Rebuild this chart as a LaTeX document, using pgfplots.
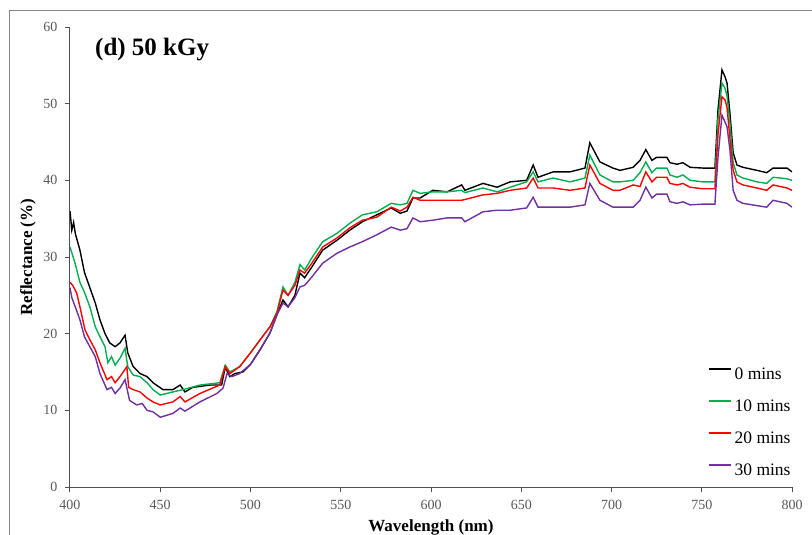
\documentclass[border=0pt]{standalone}
\usepackage{pgfplots}
\pgfplotsset{compat=1.18}
\usepackage{fontspec}
\setmainfont{Liberation Serif}

\definecolor{axgray}{RGB}{80,80,80}
\definecolor{tickgray}{RGB}{89,89,89}
\definecolor{framegray}{RGB}{134,134,134}
\definecolor{c0}{RGB}{0,0,0}
\definecolor{c10}{RGB}{0,176,80}
\definecolor{c20}{RGB}{255,0,0}
\definecolor{c30}{RGB}{112,48,160}

\pgfplotsset{
  legend image code/.code={\draw[#1] (0pt,6pt) -- (22pt,6pt);},
}

\begin{document}
\begin{tikzpicture}[x=1pt,y=1pt]
\useasboundingbox (0,0) rectangle (812,-535);
\draw[framegray, line width=1pt] (9,-11) rectangle (840,-570);

\begin{axis}[
at={(70pt,-487pt)}, anchor=south west,
scale only axis, width=722pt, height=460pt,
xmin=400, xmax=800, ymin=0, ymax=60,
xtick={400,450,...,800}, ytick={0,10,...,60},
axis x line*=bottom, axis y line*=left,
axis line style={-, draw=axgray, line width=1pt},
tick align=outside, major tick length=5pt,
tick style={draw=axgray, line width=1pt},
ticklabel style={font=\fontsize{14}{14}\selectfont, text=tickgray},
xticklabel style={yshift=-5pt},
yticklabel style={xshift=-4pt},
/pgf/number format/assume math mode=true,
xlabel={Wavelength (nm)},
ylabel={Reflectance (\%)},
xlabel style={at={(axis description cs:0.5,-0.0957)}, anchor=base, inner sep=0pt,
  font=\fontsize{17}{17}\selectfont\bfseries},
ylabel style={at={(axis description cs:-0.0582,0.5)}, anchor=center, inner sep=0pt,
  font=\fontsize{17}{17}\selectfont\bfseries},
legend cell align=left,
legend style={at={(axis description cs:0.8837,0.2609)}, anchor=north west,
  draw=none, fill=none, inner sep=0pt, row sep=16pt, column sep=3pt,
  font=\fontsize{17.5}{17.5}\selectfont,
  nodes={inner sep=0pt, text height=12pt, text depth=4pt}},
every axis plot/.append style={line width=1.4pt},
]
\addplot[c0] coordinates {
(400,36.0) (401,33.5) (402,34.5) (403,33.0) (405.5,30.9) (408,28.0) (411,26.0)
(414,24.0) (416.6,21.8) (419.4,20.0) (422,18.8) (425,18.3) (427.7,18.8) (430.5,19.8)
(432,17.5) (435,15.7) (438.8,14.8) (442.7,14.4) (446,13.6) (451.5,12.7) (457,12.7)
(461,13.3) (463.7,12.4) (468,13.0) (477.6,13.3) (484,13.3) (486,15.6) (488.6,14.4)
(491.4,14.8) (495.8,15.0) (500,16.0) (505.3,17.9) (510.8,20.1) (514.7,22.5) (518,24.4)
(520.8,23.5) (524.6,25.0) (527.4,27.9) (530,27.3) (534,28.7) (540,30.9) (548,32.2)
(555,33.5) (562,34.6) (570,35.5) (578,36.4) (583,35.7) (586.7,36.0) (590,37.7)
(594,37.7) (601,38.7) (608.9,38.5) (617,39.4) (618.8,38.7) (628.8,39.6) (636.6,39.1)
(643.8,39.8) (653,40.0) (656.6,42.0) (659.3,40.4) (667.6,41.1) (677,41.1) (685.3,41.6)
(688,44.9) (693.6,42.4) (700.8,41.6) (704.7,41.3) (712,41.7) (715.8,42.6) (719,44.0)
(722.4,42.6) (725,43.0) (730.7,43.0) (732.4,42.3) (736.3,42.1) (739.6,42.3) (743.5,41.7)
(750.7,41.6) (757.3,41.6) (759,49.2) (761.2,54.4) (762.9,53.5) (764,52.7) (765.6,48.8)
(767.4,43.6) (769.5,42.0) (772.8,41.7) (780.6,41.3) (786,41.0) (789.5,41.6) (797.2,41.6)
(800,41.1)
};
\addlegendentry{0 mins}
\addplot[c10] coordinates {
(400,31.3) (402.8,29.2) (405.5,26.7) (408,25.4) (411,23.5) (414,20.9) (416.6,19.6)
(419.4,18.3) (421,16.2) (423,17.0) (425,15.9) (427.7,16.8) (430.5,18.1) (432,15.7)
(435,14.6) (438.8,14.4) (442.7,13.6) (446,12.7) (450,12.0) (457,12.4) (462.6,12.7)
(472,13.3) (483,13.6) (486,15.9) (488.6,15.0) (494,15.7) (500,17.5) (505.3,19.2)
(510.8,20.9) (514.7,22.9) (518,26.1) (520.8,25.0) (524.6,26.7) (527.4,29.0) (530,28.3)
(534,29.9) (540,32.0) (548,33.1) (555,34.4) (562,35.5) (570,35.9) (578,37.0) (583,36.8)
(586.7,37.0) (590,38.7) (594,38.3) (601,38.5) (608.9,38.5) (617,38.7) (618.8,38.4)
(628.8,39.0) (636.6,38.5) (643.8,39.1) (653,39.8) (656.6,41.1) (659.3,39.8) (667.6,40.3)
(677,39.8) (685.3,40.3) (688,43.3) (693.6,40.7) (700.8,39.8) (704.7,39.8) (712,40.0)
(715.8,41.0) (719,42.4) (722.4,41.0) (725,41.6) (730.7,41.6) (732.4,40.7) (736.3,40.4)
(739.6,40.7) (743.5,40.0) (750.7,39.8) (757.3,39.8) (759,48.0) (761.2,52.7) (762.9,52.0)
(764,51.0) (765.6,47.5) (767.4,42.3) (769.5,40.7) (772.8,40.3) (780.6,39.8) (786,39.6)
(789.5,40.4) (797.2,40.2) (800,40.0)
};
\addlegendentry{10 mins}
\addplot[c20] coordinates {
(400,26.7) (401.5,26.3) (403.7,25.3) (405.5,23.5) (408.3,20.5) (411,19.2) (414,17.9)
(416.6,16.2) (420.5,14.0) (423,14.4) (425,13.6) (427.7,14.4) (431.5,15.7) (432.5,13.0)
(435,12.7) (438.8,12.4) (442.7,11.6) (446,11.1) (450,10.7) (457,11.1) (461,11.8)
(463.7,11.1) (472,12.2) (483,13.3) (486,15.7) (488.6,14.8) (494,15.7) (500,17.5)
(505.3,19.2) (510.8,20.9) (514.7,22.7) (518,25.7) (520.8,25.0) (524.6,26.3) (527.4,28.3)
(530,27.9) (534,29.2) (540,31.3) (548,32.5) (555,33.8) (562,34.8) (570,35.2) (578,36.5)
(583,36.0) (586.7,36.5) (590,37.8) (594,37.4) (601,37.4) (608.9,37.4) (617,37.4)
(628.8,38.1) (636.6,38.3) (643.8,38.7) (653,39.0) (656.6,40.3) (659.3,39.0) (667.6,39.0)
(677,38.7) (685.3,39.0) (688,42.0) (693.6,39.6) (700.8,38.7) (704.7,38.7) (712,39.4)
(715.8,39.2) (719,41.1) (722.4,39.8) (725,40.4) (730.7,40.4) (732.4,39.6) (736.3,39.4)
(739.6,39.6) (743.5,39.1) (750.7,38.9) (757.3,38.9) (759,46.0) (761.2,50.9) (762.9,50.5)
(764,49.5) (765.6,45.5) (767.4,41.3) (769.5,39.8) (772.8,39.4) (780.6,39.0) (786,38.7)
(789.5,39.4) (797.2,39.0) (800,38.7)
};
\addlegendentry{20 mins}
\addplot[c30] coordinates {
(400,26.0) (401,24.7) (403.7,23.0) (405.5,21.8) (408,19.6) (411,18.3) (414,17.0)
(416.6,14.8) (420.5,12.7) (423,13.0) (425,12.2) (427.7,12.9) (430.5,14.0) (433,11.3)
(437,10.7) (440,10.9) (442.7,10.0) (446,9.8) (450,9.1) (457,9.6) (461,10.3) (463.7,9.9)
(472,11.1) (481.4,12.2) (484.8,12.9) (487,14.8) (489.7,14.4) (494,14.8) (500,16.0)
(505.3,17.9) (510.8,20.1) (514.7,22.5) (518,24.0) (520.8,23.5) (524.6,24.7) (527.4,26.1)
(530,26.3) (534,27.4) (540,29.2) (548,30.5) (555,31.3) (562,32.0) (570,32.9) (578,33.9)
(583,33.5) (586.7,33.7) (590,35.1) (594,34.6) (601,34.8) (608.9,35.1) (617,35.1)
(618.8,34.6) (628.8,35.9) (636.6,36.1) (643.8,36.1) (653,36.4) (656.6,37.8) (659.3,36.5)
(667.6,36.5) (677,36.5) (685.3,36.8) (688,39.6) (693.6,37.4) (700.8,36.5) (704.7,36.5)
(712,36.5) (715.8,37.4) (719,39.1) (722.4,37.7) (725,38.2) (730.7,38.2) (732.4,37.2)
(736.3,37.0) (739.6,37.2) (743.5,36.8) (750.7,36.9) (757.3,36.9) (759,43.0) (761.2,48.5)
(762.9,47.6) (764,47.0) (765.6,44.0) (767.4,38.7) (769.5,37.4) (772.8,37.0) (780.6,36.7)
(786,36.5) (789.5,37.4) (797.2,37.0) (800,36.5)
};
\addlegendentry{30 mins}
\node[anchor=base west, inner sep=0pt, font=\fontsize{25}{25}\selectfont\bfseries]
  at (axis description cs:0.0346,0.939) {(d) 50 kGy};
\end{axis}
\end{tikzpicture}
\end{document}
